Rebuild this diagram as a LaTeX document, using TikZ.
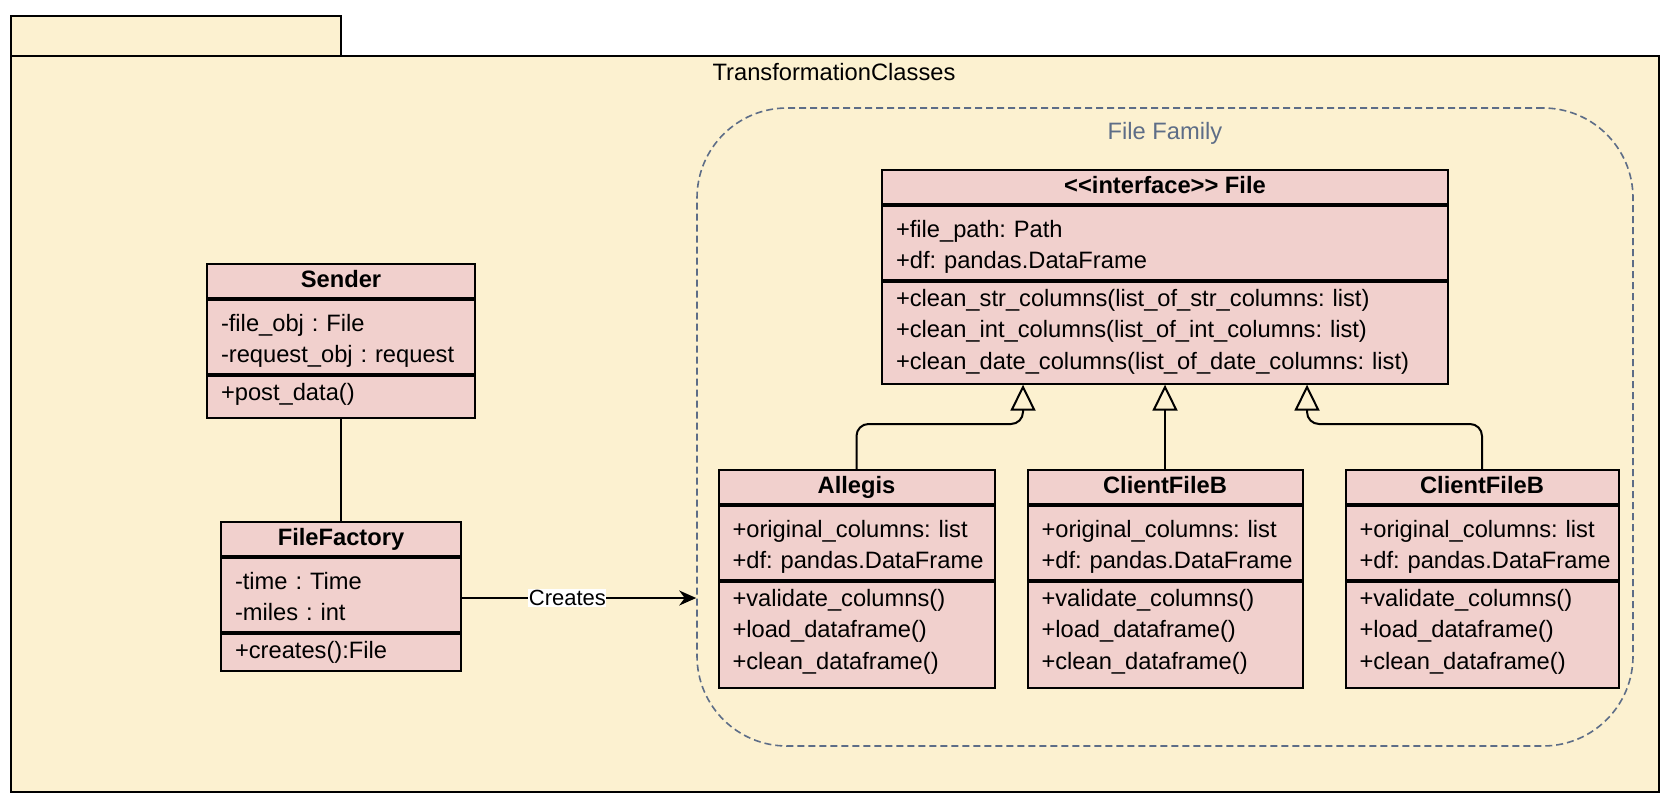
\documentclass[tikz,border=0pt]{standalone}
\usepackage{fontspec}
\setmainfont{Liberation Sans}
\usetikzlibrary{positioning,arrows.meta}

\definecolor{pkgfill}{HTML}{FCF1D0}
\definecolor{classfill}{HTML}{F1D0CD}
\definecolor{famgray}{HTML}{5D6D87}

\begin{document}
\begin{tikzpicture}[x=1pt,y=-1pt,line width=2pt,
  every node/.style={font=\fontsize{23.7}{31.7}\selectfont},
  head/.style={rectangle,draw,fill=classfill,inner sep=0pt,minimum height=34pt,
    text height=17pt,text depth=5pt,font=\fontsize{23.7}{31.7}\selectfont\bfseries},
  part/.style={rectangle,draw,fill=classfill,align=left,inner xsep=14pt,inner ysep=0pt},
  attrs/.style={part,execute at begin node={\rule{0pt}{31pt}},
    execute at end node={\rule[-11.3pt]{0pt}{0pt}}},
  meths/.style={part,execute at begin node={\rule{0pt}{24pt}},
    execute at end node={\rule[-#1]{0pt}{0pt}}},
  meths/.default=16pt,
  family/.style={rectangle,draw=famgray,line width=1.6pt,dash pattern=on 7pt off 4pt,
    rounded corners=90pt,minimum width=936pt,minimum height=638pt},
  inherit/.style={-{Triangle[open,length=26pt,width=25pt]},rounded corners=12pt}]

  \useasboundingbox (0,0) rectangle (1672,808);

  % package TransformationClasses
  \draw[fill=pkgfill] (11,16) rectangle (341,56);
  \draw[fill=pkgfill] (11,56) rectangle (1659,792);
  \node[anchor=base] (TC) at (834,81) {TransformationClasses};

  % file family group
  \node[family] (FAM) at (1165,427) {};
  \node[anchor=base,text=famgray] (FAMl) at (1165,139) {File Family};

  % Sender
  \node[head,minimum width=268pt] (S) at (341,281) {Sender};
  \node[attrs,text width=240pt,below=0pt of S] (Sa) {-file\_obj~:~File\\-request\_obj~:~request};
  \node[meths=17.7pt,text width=240pt,below=0pt of Sa] (Sm) {+post\_data()};

  % FileFactory
  \node[head,minimum width=240pt] (FF) at (341,539) {FileFactory};
  \node[attrs,text width=212pt,below=0pt of FF] (FFa) {-time~:~Time\\-miles~:~int};
  \node[meths=13pt,text width=212pt,below=0pt of FFa] (FFm) {+creates():File};

  % interface File
  \node[head,minimum width=566pt] (F) at (1165,187) {<\kern0pt<interface>\kern0pt>~File};
  \node[attrs,text width=538pt,below=0pt of F] (Fa) {+file\_path:~Path\\+df:~pandas.DataFrame};
  \node[meths=14.3pt,text width=538pt,below=0pt of Fa] (Fm)
    {+clean\_str\_columns(list\_of\_str\_columns:~list)\\
     +clean\_int\_columns(list\_of\_int\_columns:~list)\\
     +clean\_date\_columns(list\_of\_date\_columns:~list)};

  % implementing classes
  \node[head,minimum width=276pt] (A) at (856.5,487) {Allegis};
  \node[attrs,text width=248pt,below=0pt of A] (Aa) {+original\_columns:~list\\+df:~pandas.DataFrame};
  \node[meths=18.6pt,text width=248pt,below=0pt of Aa] (Am)
    {+validate\_columns()\\+load\_dataframe()\\+clean\_dataframe()};

  \node[head,minimum width=275pt] (CB) at (1165,487) {ClientFileB};
  \node[attrs,text width=247pt,below=0pt of CB] (CBa) {+original\_columns:~list\\+df:~pandas.DataFrame};
  \node[meths=18.6pt,text width=247pt,below=0pt of CBa] (CBm)
    {+validate\_columns()\\+load\_dataframe()\\+clean\_dataframe()};

  \node[head,minimum width=273pt] (CB2) at (1482,487) {ClientFileB};
  \node[attrs,text width=245pt,below=0pt of CB2] (CB2a) {+original\_columns:~list\\+df:~pandas.DataFrame};
  \node[meths=18.6pt,text width=245pt,below=0pt of CB2a] (CB2m)
    {+validate\_columns()\\+load\_dataframe()\\+clean\_dataframe()};

  % Sender uses the factory
  \draw (Sm) -- (FF);

  % factory creates files of the family
  \draw[-{Stealth[length=17pt,width=15pt]}] ([yshift=-3pt]FFa.east) coordinate (cr)
    -- node[pos=.45,fill=white,inner xsep=0.5pt,inner ysep=1pt,
            font=\fontsize{22}{22}\selectfont] (CRl) {Creates} (cr -| FAM.west);

  % inheritance
  \draw[inherit] (A.north) -- ++(0,-45) -| ([xshift=-142pt]Fm.south);
  \draw[inherit] (CB) -- (Fm);
  \draw[inherit] (CB2.north) -- ++(0,-45) -| ([xshift=142pt]Fm.south);

\end{tikzpicture}
\end{document}
